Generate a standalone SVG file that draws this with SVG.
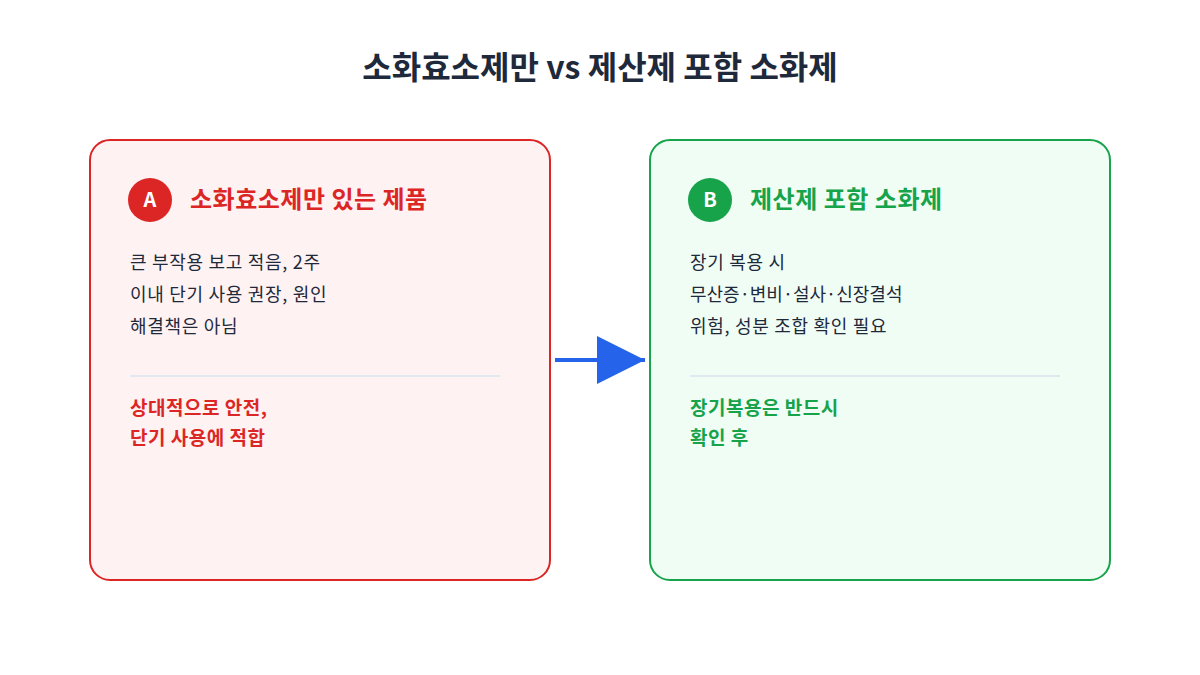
<svg xmlns="http://www.w3.org/2000/svg" width="1200" height="675" viewBox="0 0 1200 675">
<defs>
<style>
text{font-family:"Noto Sans CJK KR","Noto Sans",sans-serif}
.title{font-size:32px;font-weight:700;fill:#1e293b}
.head{font-size:24px;font-weight:700;letter-spacing:0.5px}
.badge{font-size:20px;font-weight:700;fill:#fff}
.body{font-size:18px;fill:#1e293b;letter-spacing:0.7px}
.tight{letter-spacing:0px}
.note{font-size:19px;font-weight:700;letter-spacing:0.5px}
.div{stroke:#e2e8f0;stroke-width:2}
</style>
<marker id="ah" markerUnits="userSpaceOnUse" markerWidth="48" markerHeight="48" refX="48" refY="24" orient="auto"><path d="M0,0 L48,24 L0,48 Z" fill="#2563eb"/></marker>
</defs>
<rect width="1200" height="675" fill="#fff"/>
<text class="title" x="600" y="79" text-anchor="middle">소화효소제만 vs 제산제 포함 소화제</text>
<g id="nodeA">
<rect x="90" y="140" width="460" height="440" rx="20" fill="#fef2f2" stroke="#dc2626" stroke-width="2"/>
<circle cx="150" cy="200" r="22" fill="#dc2626"/>
<text class="badge" x="150" y="207" text-anchor="middle">A</text>
<text class="head" x="190" y="208" fill="#dc2626">소화효소제만 있는 제품</text>
<text class="body" x="130" y="269">큰 부작용 보고 적음, 2주</text>
<text class="body" x="130" y="301">이내 단기 사용 권장, 원인</text>
<text class="body" x="130" y="333">해결책은 아님</text>
<line class="div" x1="130" y1="376" x2="500" y2="376"/>
<text class="note" x="130" y="415" fill="#dc2626">상대적으로 안전,</text>
<text class="note" x="130" y="445" fill="#dc2626">단기 사용에 적합</text>
</g>
<g id="nodeB">
<rect x="650" y="140" width="460" height="440" rx="20" fill="#f0fdf4" stroke="#16a34a" stroke-width="2"/>
<circle cx="710" cy="200" r="22" fill="#16a34a"/>
<text class="badge" x="710" y="207" text-anchor="middle">B</text>
<text class="head" x="750" y="208" fill="#16a34a">제산제 포함 소화제</text>
<text class="body" x="690" y="269">장기 복용 시</text>
<text class="body tight" x="690" y="301">무산증·변비·설사·신장결석</text>
<text class="body" x="690" y="333">위험, 성분 조합 확인 필요</text>
<line class="div" x1="690" y1="376" x2="1060" y2="376"/>
<text class="note" x="690" y="415" fill="#16a34a">장기복용은 반드시</text>
<text class="note" x="690" y="445" fill="#16a34a">확인 후</text>
</g>
<g id="connectors">
<line x1="555" y1="360" x2="645" y2="360" stroke="#2563eb" stroke-width="4" marker-end="url(#ah)"/>
</g>
</svg>
